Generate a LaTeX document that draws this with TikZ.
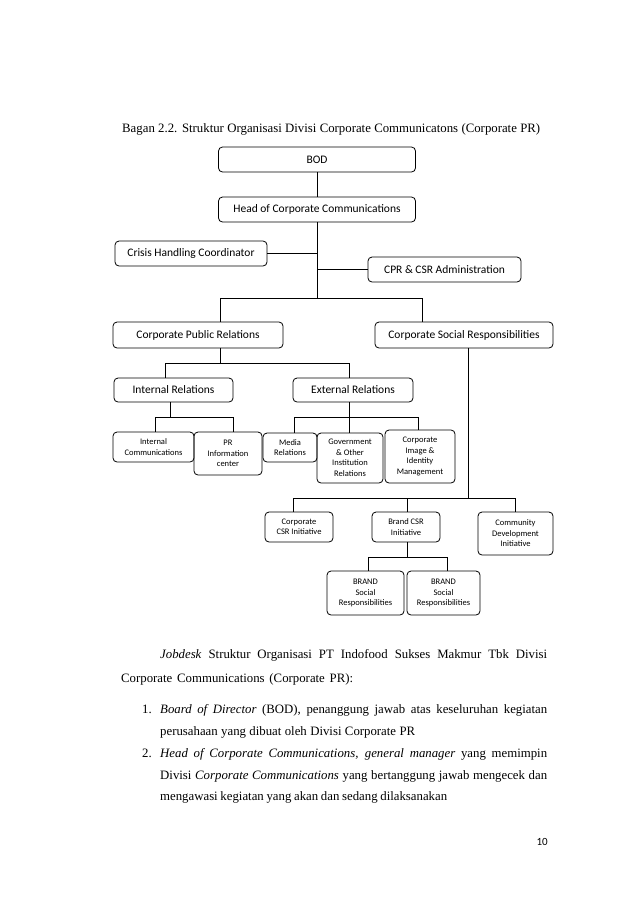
\documentclass[tikz,border=0pt]{standalone}
\usepackage{fontspec}
\setmainfont{Liberation Serif}
\newfontfamily\boxfont{Carlito}
\begin{document}
\begin{tikzpicture}[x=1pt,y=-1pt,
  orgbox/.style={draw=black, line width=0.8pt, rounded corners=4pt, inner sep=0pt, align=center, font=\boxfont\fontsize{11.5}{13}\selectfont},
  smallbox/.style={orgbox, font=\boxfont\fontsize{8.5}{10.5}\selectfont},
  conn/.style={draw=black, line width=0.8pt},
  bodytext/.style={anchor=base west, inner sep=0pt, font=\fontsize{12.8}{15}\selectfont}
]
\useasboundingbox (0,0) rectangle (638,903);
\fill[white] (0,0) rectangle (638,903);

% title
\node[bodytext] (title) at (122,132)
  {\makebox[418pt][s]{Bagan 2.2. Struktur Organisasi Divisi Corporate Communicatons (Corporate PR)}};

% boxes
\node[orgbox, minimum width=197pt, minimum height=25pt] (bod) at (317,159.5) {BOD};
\node[orgbox, minimum width=197pt, minimum height=25pt] (head) at (317,209.5) {Head of Corporate Communications};
\node[orgbox, minimum width=152pt, minimum height=25pt] (crisis) at (191,253.5) {Crisis Handling Coordinator};
\node[orgbox, minimum width=153pt, minimum height=25pt] (admin) at (444.5,269.5) {CPR \& CSR Administration};
\node[orgbox, minimum width=170pt, minimum height=26pt] (cpr) at (198,335) {Corporate Public Relations};
\node[orgbox, minimum width=178pt, minimum height=26pt] (csr) at (464,335) {Corporate Social Responsibilities};
\node[orgbox, minimum width=119pt, minimum height=24pt] (intrel) at (173.5,390) {Internal Relations};
\node[orgbox, minimum width=120pt, minimum height=24pt] (extrel) at (353,390) {External Relations};
\node[smallbox, minimum width=81pt, minimum height=30pt] (intcomm) at (153.5,447) {Internal\\Communications};
\node[smallbox, minimum width=68pt, minimum height=43pt] (prinfo) at (228,453.5) {PR\\Information\\center};
\node[smallbox, minimum width=54pt, minimum height=29pt] (media) at (290,447.5) {Media\\Relations};
\node[smallbox, minimum width=66pt, minimum height=50pt] (gov) at (350,458) {Government\\\& Other\\Institution\\Relations};
\node[smallbox, minimum width=70pt, minimum height=53pt] (image) at (420,456.5) {Corporate\\Image \&\\Identity\\Management};
\node[smallbox, minimum width=68pt, minimum height=30pt] (corpcsr) at (299,527) {Corporate\\CSR Initiative};
\node[smallbox, minimum width=68pt, minimum height=30pt] (brandcsr) at (406,527) {Brand CSR\\Initiative};
\node[smallbox, minimum width=75pt, minimum height=43pt] (community) at (515.5,533.5) {Community\\Development\\Initiative};
\node[smallbox, minimum width=77pt, minimum height=44pt] (brand1) at (365.5,593) {BRAND\\Social\\Responsibilities};
\node[smallbox, minimum width=73pt, minimum height=44pt] (brand2) at (443.5,593) {BRAND\\Social\\Responsibilities};

% junction coordinates
\coordinate (j1) at (317,298);
\coordinate (jL) at (220,298);
\coordinate (jR) at (422,298);
\coordinate (k) at (220,363);
\coordinate (kL) at (165,363);
\coordinate (kR) at (349,363);
\coordinate (m) at (170,417);
\coordinate (mL) at (155,417);
\coordinate (mR) at (233,417);
\coordinate (n) at (349,417);
\coordinate (nL) at (294,417);
\coordinate (nR) at (418,417);
\coordinate (p) at (468,498);
\coordinate (pL) at (293,498);
\coordinate (pM) at (407,498);
\coordinate (pR) at (515,498);
\coordinate (q) at (407,557);
\coordinate (qL) at (368,557);
\coordinate (qR) at (447,557);

% connectors
\draw[conn] (bod) -- (head);
\draw[conn] (head) -- (j1);
\draw[conn] (crisis.east) -- (crisis.east -| j1);
\draw[conn] (admin.west) -- (admin.west -| j1);
\draw[conn] (jL |- cpr.north) -- (jL) -- (jR) -- (jR |- csr.north);
\draw[conn] (k |- cpr.south) -- (k);
\draw[conn] (kL |- intrel.north) -- (kL) -- (kR) -- (kR |- extrel.north);
\draw[conn] (m |- intrel.south) -- (m);
\draw[conn] (mL |- intcomm.north) -- (mL) -- (mR) -- (mR |- prinfo.north);
\draw[conn] (n |- extrel.south) -- (n);
\draw[conn] (nL |- media.north) -- (nL) -- (nR) -- (nR |- image.north);
\draw[conn] (n) -- (n |- gov.north);
\draw[conn] (p |- csr.south) -- (p);
\draw[conn] (pL |- corpcsr.north) -- (pL) -- (pR) -- (pR |- community.north);
\draw[conn] (pM) -- (pM |- brandcsr.north);
\draw[conn] (q |- brandcsr.south) -- (q);
\draw[conn] (qL |- brand1.north) -- (qL) -- (qR) -- (qR |- brand2.north);

% body text
\node[bodytext] (l1) at (160,658) {\makebox[387pt][s]{\textit{Jobdesk} Struktur Organisasi PT Indofood Sukses Makmur Tbk Divisi}};
\node[bodytext] (l2) at (121,682) {\makebox[232pt][s]{Corporate Communications (Corporate PR):}};
\node[bodytext] (n1) at (142,713) {1.};
\node[bodytext] (l3) at (160,713) {\makebox[387pt][s]{\textit{Board of Director} (BOD), penanggung jawab atas keseluruhan kegiatan}};
\node[bodytext] (l4) at (160,735) {\makebox[255pt][s]{perusahaan yang dibuat oleh Divisi Corporate PR}};
\node[bodytext] (n2) at (142,757) {2.};
\node[bodytext] (l5) at (160,757) {\makebox[387pt][s]{\textit{Head of Corporate Communications, general manager} yang memimpin}};
\node[bodytext] (l6) at (160,779) {\makebox[387pt][s]{Divisi \textit{Corporate Communications} yang bertanggung jawab mengecek dan}};
\node[bodytext] (l7) at (160,800) {\makebox[287pt][s]{mengawasi kegiatan yang akan dan sedang dilaksanakan}};
\node[anchor=base east, inner sep=0pt, font=\boxfont\fontsize{11}{13}\selectfont] (pg) at (548,845) {10};
\end{tikzpicture}
\end{document}
